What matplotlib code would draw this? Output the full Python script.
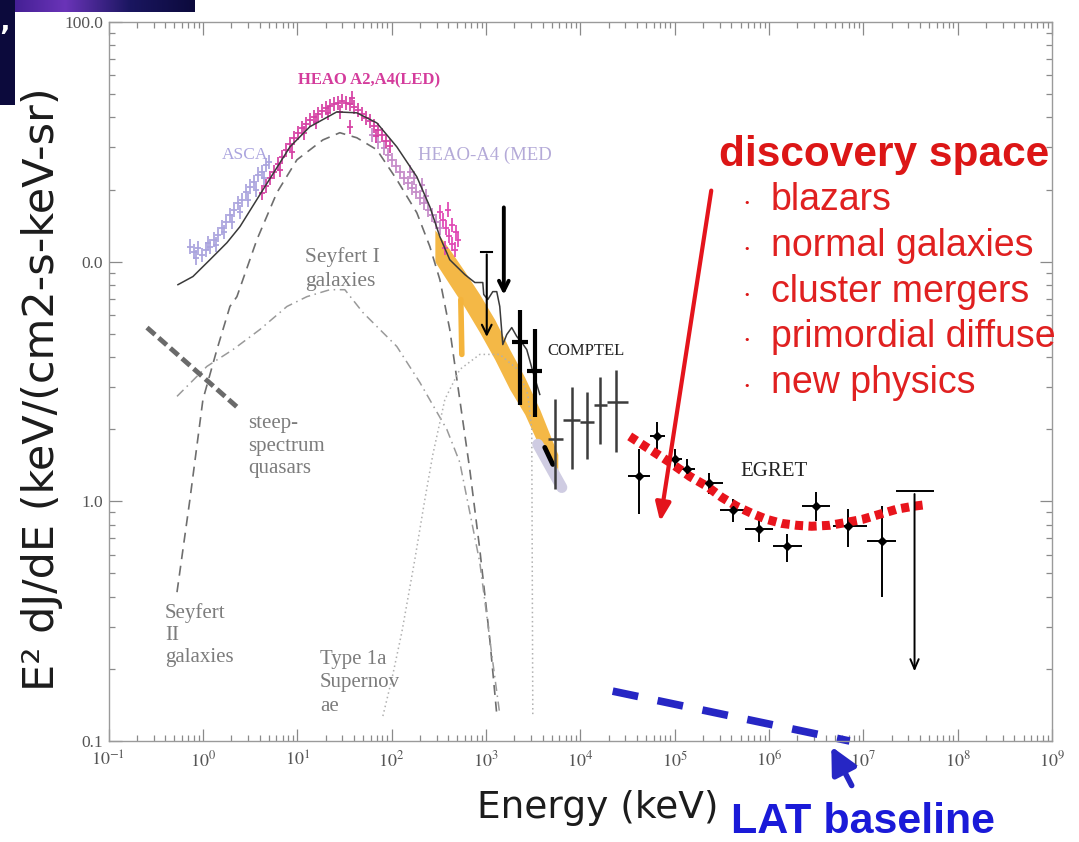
import numpy as np
import matplotlib
matplotlib.use("Agg")
import matplotlib.pyplot as plt
from matplotlib.ticker import FixedLocator, FuncFormatter, NullFormatter
from matplotlib.patches import Rectangle

W, H = 1079, 842

# ------------------------------------------------------------------
# Spectral data, all given as log10(E / keV) and log10(E^2 dJ/dE)
# ------------------------------------------------------------------
total_log_e = [-0.264, -0.105, 0.075, 0.255, 0.393, 0.637, 0.923, 1.134, 1.420, 1.632,
               1.844, 2.056, 2.268, 2.406, 2.512, 2.617, 2.777, 2.883, 2.967, 2.977,
               3.020, 3.073, 3.115, 3.147, 3.179, 3.221, 3.274, 3.327, 3.380, 3.433,
               3.497, 3.571]
total_log_f = [0.904, 0.938, 1.008, 1.079, 1.146, 1.300, 1.479, 1.563, 1.625, 1.621,
               1.579, 1.479, 1.354, 1.229, 1.104, 1.008, 0.946, 0.913, 0.913, 0.863,
               0.842, 0.875, 0.875, 0.813, 0.654, 0.696, 0.725, 0.688, 0.663, 0.633,
               0.542, 0.446]

sey2_log_e = [-0.274, -0.137, 0.001, 0.149, 0.287, 0.361, 0.573, 0.785, 0.997, 1.272,
              1.452, 1.632, 1.844, 2.056, 2.268, 2.406, 2.512, 2.617, 2.723, 2.829,
              2.935, 3.041, 3.115]
sey2_log_f = [-0.379, 0.008, 0.425, 0.633, 0.813, 0.854, 1.092, 1.288, 1.425, 1.508,
              1.538, 1.517, 1.467, 1.342, 1.204, 1.063, 0.925, 0.717, 0.425, 0.133,
              -0.200, -0.575, -0.888]

sey1_log_e = [-0.274, 0.043, 0.319, 0.605, 0.891, 1.103, 1.346, 1.505, 1.696, 2.056,
              2.300, 2.586, 2.723, 2.935, 3.073, 3.147]
sey1_log_f = [0.438, 0.563, 0.633, 0.717, 0.813, 0.854, 0.883, 0.883, 0.788, 0.646,
              0.496, 0.300, 0.163, -0.254, -0.671, -0.888]

snia_log_e = [1.908, 2.003, 2.109, 2.247, 2.353, 2.438, 2.565, 2.723, 2.935, 3.147,
              3.338, 3.444, 3.486, 3.497]
snia_log_f = [-0.896, -0.742, -0.546, -0.242, 0.008, 0.196, 0.425, 0.550, 0.613, 0.613,
              0.550, 0.446, 0.300, -0.888]

ssq_log_e = [-0.592, 0.393]
ssq_log_f = [0.725, 0.383]

asca_log_e = [-0.137, -0.094, -0.052, -0.010, 0.033, 0.075, 0.117, 0.160, 0.202, 0.245,
              0.287, 0.329, 0.372, 0.414, 0.457, 0.499, 0.541, 0.584, 0.626, 0.668,
              0.700, -0.073, 0.054, 0.139, 0.224, 0.308, 0.393, 0.478, 0.562, 0.647]
asca_log_f = [1.063, 1.042, 1.058, 1.029, 1.050, 1.063, 1.092, 1.113, 1.142, 1.167,
              1.196, 1.217, 1.246, 1.258, 1.292, 1.313, 1.333, 1.363, 1.375, 1.404,
              1.417, 1.017, 1.079, 1.071, 1.125, 1.167, 1.208, 1.258, 1.300, 1.350]

led_log_e = [0.626, 0.668, 0.711, 0.753, 0.796, 0.838, 0.880, 0.923, 0.965, 1.007,
             1.050, 1.092, 1.134, 1.177, 1.219, 1.261, 1.304, 1.346, 1.389, 1.431,
             1.473, 1.516, 1.558, 1.601, 1.643, 1.685, 1.728, 1.770, 1.812, 1.855,
             1.897, 1.940, 1.982, 0.817, 0.944, 1.071, 1.198, 1.325, 1.452, 1.579,
             1.558, 1.834]
led_log_f = [1.288, 1.317, 1.350, 1.375, 1.408, 1.438, 1.467, 1.492, 1.517, 1.538,
             1.558, 1.575, 1.592, 1.604, 1.617, 1.629, 1.642, 1.650, 1.658, 1.663,
             1.671, 1.663, 1.658, 1.646, 1.633, 1.617, 1.600, 1.588, 1.567, 1.550,
             1.529, 1.504, 1.483, 1.383, 1.458, 1.538, 1.583, 1.621, 1.625, 1.683,
             1.563, 1.525]

med_log_e = [1.791, 1.855, 1.918, 1.961, 2.003, 2.046, 2.088, 2.130, 2.172, 2.215,
             2.257, 2.300, 2.342, 2.385, 2.427, 2.469, 2.512, 2.236, 2.321, 2.363, 2.194]
med_log_f = [1.529, 1.500, 1.475, 1.446, 1.425, 1.400, 1.375, 1.350, 1.329, 1.308,
             1.292, 1.267, 1.246, 1.217, 1.196, 1.167, 1.142, 1.350, 1.321, 1.275, 1.375]

a4_log_e = [2.512, 2.543, 2.575, 2.607, 2.639, 2.671, 2.702, 2.596, 2.565, 2.639, 2.681]
a4_log_f = [1.208, 1.175, 1.142, 1.108, 1.075, 1.050, 1.092, 1.217, 1.058, 1.154, 1.125]

# MeV band (balloon / SMM measurements)
band_log_e = [2.459, 2.617, 2.777, 2.935, 3.094, 3.253, 3.412, 3.571, 3.698, 3.762]
band_log_hi = [1.133, 1.050, 0.958, 0.863, 0.758, 0.633, 0.517, 0.383, 0.258, 0.196]
band_log_lo = [1.000, 0.904, 0.808, 0.704, 0.592, 0.467, 0.363, 0.225, 0.133, 0.100]

# upper limits and early MeV points (log E, log F top, log F bottom)
ul_log_e = [3.190, 3.009]
ul_log_top = [1.238, 1.042]
ul_log_bot = [0.850, 0.675]
early_log_e = [3.359, 3.518]
early_log_lo_e = [3.274, 3.433]
early_log_hi_e = [3.444, 3.592]
early_log_f = [0.663, 0.542]
early_log_f_lo = [0.404, 0.350]
early_log_f_hi = [0.800, 0.717]

comptel_log_e = [3.730, 3.910, 4.069, 4.207, 4.376]
comptel_log_e_lo = [3.655, 3.815, 3.995, 4.143, 4.281]
comptel_log_e_hi = [3.815, 3.995, 4.143, 4.281, 4.503]
comptel_log_f = [0.258, 0.338, 0.333, 0.400, 0.413]
comptel_log_f_lo = [0.050, 0.133, 0.175, 0.238, 0.204]
comptel_log_f_hi = [0.425, 0.479, 0.458, 0.517, 0.550]

egret_log_e = [4.620, 4.811, 5.002, 5.129, 5.362, 5.616, 5.891, 6.187, 6.495, 6.834, 7.194]
egret_log_e_lo = [4.503, 4.736, 4.933, 5.054, 5.245, 5.479, 5.743, 6.039, 6.347, 6.675, 7.035]
egret_log_e_hi = [4.736, 4.895, 5.075, 5.213, 5.510, 5.764, 6.039, 6.347, 6.643, 7.035, 7.342]
egret_log_f = [0.104, 0.271, 0.175, 0.133, 0.075, -0.038, -0.117, -0.188, -0.021, -0.104, -0.167]
egret_log_f_lo = [-0.054, 0.217, 0.125, 0.092, 0.029, -0.088, -0.171, -0.254, -0.083, -0.192, -0.400]
egret_log_f_hi = [0.217, 0.329, 0.217, 0.175, 0.117, 0.008, -0.075, -0.138, 0.038, -0.033, -0.021]
egret_ul_log_e = [7.543, 7.353, 7.734]
egret_ul_log_f = [0.042, -0.721]

# model for the unexplored gamma-ray region
model_log_e = [4.524, 4.736, 4.949, 5.161, 5.341, 5.499, 5.659, 5.817, 5.975, 6.134,
               6.294, 6.453, 6.643, 6.823, 6.993, 7.173, 7.353, 7.522, 7.681]
model_log_f = [0.271, 0.217, 0.163, 0.104, 0.063, 0.017, -0.021, -0.050, -0.075, -0.092,
               -0.100, -0.104, -0.100, -0.088, -0.075, -0.054, -0.033, -0.021, -0.013]

lat_log_e = [4.344, 6.855]
lat_log_f = [-0.792, -1.000]

y_tick_values = [0.1, 1.0, 10.0, 100.0]
y_tick_text = ["0.1", "1.0", "0.0", "100.0"]
x_decades = list(range(-1, 10))

discovery_items = ["blazars", "normal galaxies", "cluster mergers",
                   "primordial diffuse", "new physics"]


def p(v):
    return 10 ** np.asarray(v, dtype=float)


def fpos(px, py):
    return px / W, 1 - py / H


plt.rcParams["mathtext.fontset"] = "stix"
SERIF = "Liberation Serif"
RED = "#dc1616"
BLUE = "#1a1ad8"

fig = plt.figure(figsize=(W / 100, H / 100), dpi=100)
ax = fig.add_axes([108.5 / W, 1 - 741 / H, (1052 - 108.5) / W, (741 - 22) / H])
ax.set_xscale("log")
ax.set_yscale("log")
ax.set_xlim(0.1, 1e9)
ax.set_ylim(0.1, 100)

# axes frame and ticks
for s in ax.spines.values():
    s.set_color("#9a9a9a")
    s.set_linewidth(1.0)
ax.xaxis.set_major_locator(FixedLocator([10.0 ** k for k in x_decades]))
ax.xaxis.set_minor_locator(FixedLocator([m * 10.0 ** k for k in x_decades[:-1] for m in range(2, 10)]))
ax.xaxis.set_major_formatter(FuncFormatter(lambda v, i: r"$10^{%d}$" % round(np.log10(v))))
ax.xaxis.set_minor_formatter(NullFormatter())
ax.yaxis.set_major_locator(FixedLocator(y_tick_values))
ax.yaxis.set_minor_locator(FixedLocator([m * 10.0 ** k for k in range(-1, 2) for m in range(2, 10)]))
ax.yaxis.set_major_formatter(FuncFormatter(lambda v, i: y_tick_text[i] if i is not None and i < len(y_tick_text) else ""))
ax.yaxis.set_minor_formatter(NullFormatter())
ax.tick_params(which="both", direction="in", top=True, right=True, colors="#8a8a8a", width=0.9)
ax.tick_params(which="major", length=9)
ax.tick_params(which="minor", length=4.5)
ax.tick_params(axis="x", which="major", labelsize=13, labelcolor="#555555", pad=7)
ax.tick_params(axis="y", which="major", labelsize=12.5, labelcolor="#555555", pad=4)
for lab in ax.get_yticklabels():
    lab.set_fontfamily(SERIF)

# model components
ax.plot(p(sey2_log_e), p(sey2_log_f), color="#6e6e6e", lw=1.2, ls=(0, (6, 4)))
ax.plot(p(sey1_log_e), p(sey1_log_f), color="#9a9a9a", lw=1.1, ls=(0, (6, 3, 1, 3)))
ax.plot(p(snia_log_e), p(snia_log_f), color="#b0b0b0", lw=1.1, ls=(0, (1, 2)))
ax.plot(p(ssq_log_e), p(ssq_log_f), color="#6a6a6a", lw=3.5, ls=(0, (2.2, 1.0)))

# X-ray data
err = 10 ** 0.03
for le, lf, col in [(asca_log_e, asca_log_f, "#aaa4de"),
                    (med_log_e, med_log_f, "#c48ac8"),
                    (led_log_e, led_log_f, "#d640a4"),
                    (a4_log_e, a4_log_f, "#e048b4")]:
    e, f = p(le), p(lf)
    ax.errorbar(e, f, xerr=[e - e / err, e * err - e], yerr=[f - f / err, f * err - f],
                fmt="none", ecolor=col, elinewidth=1.4, alpha=0.9)

# MeV band
ax.fill_between(p(band_log_e), p(band_log_lo), p(band_log_hi), color="#f4b43c", lw=0, alpha=0.95)
ax.plot(p([2.734, 2.745]), p([0.842, 0.613]), color="#f4b43c", lw=4, solid_capstyle="round")
ax.plot(p([3.550, 3.804]), p([0.238, 0.058]), color="#cfcce2", lw=8, solid_capstyle="round")

# total model
ax.plot(p(total_log_e), p(total_log_f), color="#3a3a3a", lw=1.1)

# upper limits
for le, top, bot, lw, cw in zip(ul_log_e, ul_log_top, ul_log_bot, [2.8, 1.5], [0, 0.06]):
    ax.annotate("", xy=(p(le), p(bot)), xytext=(p(le), p(top)),
                arrowprops=dict(arrowstyle="->,head_length=0.7,head_width=0.35", color="black", lw=lw))
    if cw:
        ax.plot(p([le - cw, le + cw]), p([top, top]), color="black", lw=1.5)
e = p(early_log_e)
f = p(early_log_f)
ax.errorbar(e, f, xerr=[e - p(early_log_lo_e), p(early_log_hi_e) - e],
            yerr=[f - p(early_log_f_lo), p(early_log_f_hi) - f], fmt="none", ecolor="black", elinewidth=3)
ax.plot(p([3.624, 3.709]), p([0.225, 0.154]), color="black", lw=3.5, solid_capstyle="round")

# COMPTEL
e = p(comptel_log_e)
f = p(comptel_log_f)
ax.errorbar(e, f, xerr=[e - p(comptel_log_e_lo), p(comptel_log_e_hi) - e],
            yerr=[f - p(comptel_log_f_lo), p(comptel_log_f_hi) - f], fmt="none", ecolor="#3c3c3c", elinewidth=1.8)

# EGRET
e = p(egret_log_e)
f = p(egret_log_f)
ax.errorbar(e, f, xerr=[e - p(egret_log_e_lo), p(egret_log_e_hi) - e],
            yerr=[f - p(egret_log_f_lo), p(egret_log_f_hi) - f], fmt="D", ms=4, color="black",
            ecolor="black", elinewidth=1.4)
ue = p(egret_ul_log_e)
uf = p(egret_ul_log_f)
ax.plot([ue[1], ue[2]], [uf[0], uf[0]], color="black", lw=1.4)
ax.annotate("", xy=(ue[0], uf[1]), xytext=(ue[0], uf[0]),
            arrowprops=dict(arrowstyle="->,head_length=0.7,head_width=0.3", color="black", lw=1.4))

# discovery-space model and LAT sensitivity
ax.plot(p(model_log_e), p(model_log_f), color="#e8141c", lw=6.5, ls=(0, (0.9, 0.6)), dash_capstyle="butt")
ax.plot(p(lat_log_e), p(lat_log_f), color="#2626c4", lw=5.5, ls=(0, (3.4, 2.6)), dash_capstyle="butt", clip_on=False)

# red pointer
ax.annotate("", xy=(p(4.842), p(-0.096)), xytext=(p(5.393), p(1.308)),
            arrowprops=dict(arrowstyle="-|>,head_length=1.1,head_width=0.45", color="#e4141c", lw=3))

# component labels
grey = "#7c7c7c"
fig.text(*fpos(305, 269), "Seyfert I\ngalaxies", fontsize=15.5, color=grey, family=SERIF,
         va="center", ha="left", linespacing=1.3)
fig.text(*fpos(248, 446), "steep-\nspectrum\nquasars", fontsize=15, color=grey, family=SERIF,
         va="center", ha="left", linespacing=1.25)
fig.text(*fpos(165, 635), "Seyfert\nII\ngalaxies", fontsize=15, color=grey, family=SERIF,
         va="center", ha="left", linespacing=1.2)
fig.text(*fpos(320, 683), "Type 1a\nSupernov\nae", fontsize=15, color=grey, family=SERIF,
         va="center", ha="left", linespacing=1.3)
fig.text(*fpos(298, 80), "HEAO A2,A4(LED)", fontsize=12, color="#d43c9c", family=SERIF,
         weight="bold", va="center", ha="left")
fig.text(*fpos(222, 155), "ASCA", fontsize=12.5, color="#aaa4de", family=SERIF, va="center", ha="left")
fig.text(*fpos(418, 155), "HEAO-A4 (MED", fontsize=13.5, color="#b4aad8", family=SERIF,
         va="center", ha="left")
fig.text(*fpos(547, 351), "COMPTEL", fontsize=12, color="#222222", family=SERIF, va="center", ha="left")
fig.text(*fpos(740, 472), "EGRET", fontsize=15, color="#222222", family=SERIF, va="center", ha="left")

# discovery space list
fig.text(*fpos(884, 155), "discovery space", fontsize=30.5, color=RED, weight="bold",
         family="Liberation Sans", ha="center", va="center")
for i, item in enumerate(discovery_items):
    y = 200 + i * 45.8
    fig.text(*fpos(747, y + 3), "\u2022", fontsize=8, color=RED, ha="center", va="center")
    fig.text(*fpos(771, y), item, fontsize=27, color="#e02020", family="Liberation Sans",
             ha="left", va="center")

# axis titles
fig.text(*fpos(42, 389), "E\u00b2 dJ/dE (keV/(cm2-s-keV-sr)", rotation=90, fontsize=31,
         color="#1c1c1c", ha="center", va="center")
fig.text(*fpos(598, 808), "Energy (keV)", fontsize=27, color="#1c1c1c", ha="center", va="center")
fig.text(*fpos(863, 822), "LAT baseline", fontsize=31, color=BLUE, weight="bold",
         family="Liberation Sans", ha="center", va="center")
fig.add_artist(matplotlib.patches.FancyArrowPatch(
    fpos(853, 788), fpos(830, 744), transform=fig.transFigure,
    arrowstyle="-|>,head_length=0.8,head_width=0.4", mutation_scale=20, color="#2626c4", lw=4))

# slide decoration in the top-left corner
deco = fig.add_axes([0, 1 - 12 / H, 195 / W, 12 / H])
grad = np.linspace(0, 1, 256)[None, :]
deco.imshow(grad, aspect="auto", cmap=matplotlib.colors.LinearSegmentedColormap.from_list(
    "slide", ["#3a1a8a", "#6a34b8", "#1a1660", "#0c0a3c"]))
deco.set_axis_off()
fig.add_artist(Rectangle((0, 1 - 105 / H), 15 / W, 105 / H, transform=fig.transFigure,
                         color="#0c0a3c", lw=0))
fig.text(*fpos(5, 38), "\u2019", fontsize=20, color="white", weight="bold", ha="center", va="center")

fig.savefig("out.png", dpi=100)
